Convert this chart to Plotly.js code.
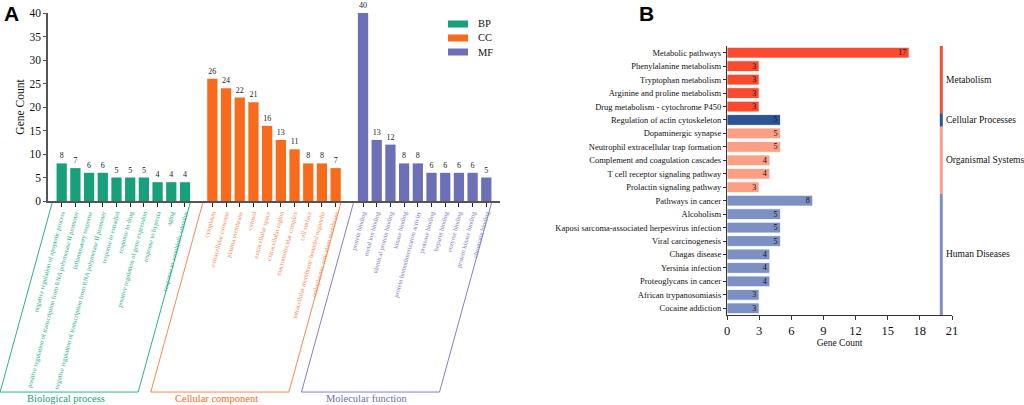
<!DOCTYPE html>
<html><head><meta charset="utf-8">
<script src="https://cdn.plot.ly/plotly-3.0.1.min.js"></script>
<style>html,body{margin:0;padding:0;background:#fff}#chart{width:1024px;height:405px}</style>
</head><body><div id="chart"></div>
<script>
// ---------- GO data (panel A) ----------
const bpTerms = ['negative regulation of apoptotic process','positive regulation of transcription from RNA polymerase II promoter','inflammatory response','negative regulation of transcription from RNA polymerase II promoter','response to estradiol','response to drug','positive regulation of gene expression','response to hypoxia','aging','response to xenobiotic stimulus'];
const bpCounts = [8,7,6,6,5,5,5,4,4,4];
const ccTerms = ['cytoplasm','extracellular exosome','plasma membrane','cytosol','extracellular space','extracellular region','macromolecular complex','cell surface','intracellular membrane-bounded organelle','endoplasmic reticulum membrane'];
const ccCounts = [26,24,22,21,16,13,11,8,8,7];
const mfTerms = ['protein binding','metal ion binding','identical protein binding','kinase binding','protein homodimerization activity','protease binding','heparin binding','enzyme binding','protein kinase binding','chromatin binding'];
const mfCounts = [40,13,12,8,8,6,6,6,6,5];
const goNames = ['BP','CC','MF'];
const goTitles = ['Biological process','Cellular component','Molecular function'];

// ---------- KEGG data (panel B) ----------
const keggTerms = ['Metabolic pathways','Phenylalanine metabolism','Tryptophan metabolism','Arginine and proline metabolism','Drug metabolism - cytochrome P450','Regulation of actin cytoskeleton','Dopaminergic synapse','Neutrophil extracellular trap formation','Complement and coagulation cascades','T cell receptor signaling pathway','Prolactin signaling pathway','Pathways in cancer','Alcoholism','Kaposi sarcoma-associated herpesvirus infection','Viral carcinogenesis','Chagas disease','Yersinia infection','Proteoglycans in cancer','African trypanosomiasis','Cocaine addiction'];
const keggCounts = [17,3,3,3,3,5,5,5,4,4,3,8,5,5,5,4,4,4,3,3];
const keggClasses = ['Metabolism','Metabolism','Metabolism','Metabolism','Metabolism','Cellular Processes','Organismal Systems','Organismal Systems','Organismal Systems','Organismal Systems','Organismal Systems','Human Diseases','Human Diseases','Human Diseases','Human Diseases','Human Diseases','Human Diseases','Human Diseases','Human Diseases','Human Diseases'];
const classNames = ['Metabolism','Cellular Processes','Organismal Systems','Human Diseases'];

// ---------- styles ----------
const SERIF = 'Liberation Serif, Times New Roman, serif';
const goColors = ['#17A07B','#F96B1C','#6C70B6'];
const goTextColors = ['#2BB08C','#F58A55','#7F82C0'];
const classColors = {'Metabolism':'#FA4A30','Cellular Processes':'#2D5392','Organismal Systems':'#FB9F85','Human Diseases':'#7D90C3'};

const goGroups = [[bpTerms,bpCounts],[ccTerms,ccCounts],[mfTerms,mfCounts]];
const XR = [-1, 32];
const dom = v => (v - XR[0]) / (XR[1] - XR[0]);
const W = 1024, H = 405;

const traces = [];
const tickvals = [], ticktext = [];
const shapes = [], annotations = [];
goGroups.forEach(([terms, counts], g) => {
  const start = g * 11;
  const xs = terms.map((t, i) => start + i);
  xs.forEach((x, i) => { tickvals.push(x); ticktext.push('<span style="color:' + goTextColors[g] + '">' + terms[i] + '</span>'); });
  traces.push({
    type: 'bar', name: goNames[g], x: xs, y: counts, width: 0.75,
    marker: {color: goColors[g]},
    text: counts.map(String), textposition: 'outside', cliponaxis: false,
    textfont: {family: SERIF, size: 8, color: '#222'},
    xaxis: 'x', yaxis: 'y', hoverinfo: 'x+y', showlegend: false
  });
  // bracket parallelogram
  const l = dom(start - 0.7), r = dom(start + terms.length - 1 + 0.38);
  const s = 0.115, yT = 0.499, yB = 0.032;
  shapes.push({type: 'path', xref: 'x domain', yref: 'paper',
    path: `M ${l},${yT} L ${l - s},${yB} L ${r - s},${yB} L ${r},${yT}`,
    line: {color: goTextColors[g], width: 1}});
  annotations.push({xref: 'x domain', yref: 'paper', x: (l + r) / 2 - s - 0.008, y: 0.017,
    text: goTitles[g], showarrow: false, xanchor: 'center', yanchor: 'middle',
    font: {family: SERIF, size: 10.5, color: goColors[g]}});
  // legend entry (swatch + label)
  const yc = 24 + 14 * g;
  shapes.push({type: 'rect', xref: 'paper', yref: 'paper', x0: 448 / W, x1: 468 / W,
    y0: (H - yc - 3.5) / H, y1: (H - yc + 3.5) / H, fillcolor: goColors[g], line: {width: 0}});
  annotations.push({xref: 'paper', yref: 'paper', x: 476 / W, y: (H - yc) / H, text: goNames[g],
    showarrow: false, xanchor: 'left', yanchor: 'middle', font: {family: SERIF, size: 10.5, color: '#111'}});
});

// KEGG bars
traces.push({
  type: 'bar', orientation: 'h', x: keggCounts, y: keggTerms, width: 0.8,
  marker: {color: keggClasses.map(c => classColors[c]), line: {color: '#fff', width: 0.8}},
  text: keggCounts.map(String), textposition: 'inside', insidetextanchor: 'end', textangle: 0,
  textfont: {family: SERIF, size: 8, color: '#111'}, constraintext: 'none',
  xaxis: 'x2', yaxis: 'y2', showlegend: false, hoverinfo: 'x+y'
});

// class strip + labels
classNames.forEach(c => {
  const idx = keggClasses.map((k, i) => k === c ? i : -1).filter(i => i >= 0);
  const a = Math.min(...idx), b = Math.max(...idx);
  shapes.push({type: 'rect', xref: 'x2', yref: 'y2', x0: 19.86, x1: 20.14, y0: a - 0.5, y1: b + 0.5,
    fillcolor: classColors[c], line: {width: 0}});
  annotations.push({xref: 'x2', yref: 'y2', x: 20.22, y: (a + b) / 2, text: c, showarrow: false,
    xanchor: 'left', yanchor: 'middle', font: {family: SERIF, size: 9.5, color: '#111'}});
});

// panel letters
annotations.push({xref: 'paper', yref: 'paper', x: 0.002, y: 1.0, text: '<b>A</b>', showarrow: false,
  xanchor: 'left', yanchor: 'top', font: {family: 'Liberation Sans, Arial, sans-serif', size: 21, color: '#000'}});
annotations.push({xref: 'paper', yref: 'paper', x: 0.622, y: 1.0, text: '<b>B</b>', showarrow: false,
  xanchor: 'left', yanchor: 'top', font: {family: 'Liberation Sans, Arial, sans-serif', size: 21, color: '#000'}});

const layout = {
  width: W, height: H,
  margin: {l: 0, r: 0, t: 0, b: 0},
  paper_bgcolor: '#fff', plot_bgcolor: '#fff',
  barmode: 'overlay',
  font: {family: SERIF, color: '#111'},
  showlegend: false,
  xaxis: {domain: [48/W, 500/W], range: XR, anchor: 'y',
    tickmode: 'array', tickvals: tickvals, ticktext: ticktext, tickangle: -75,
    tickfont: {family: SERIF, size: 6.5}, ticks: 'outside', ticklen: 4, tickcolor: '#222', tickwidth: 1,
    showline: true, linecolor: '#555', linewidth: 1.5, showgrid: false, zeroline: false, automargin: false},
  yaxis: {domain: [(H-201)/H, (H-13)/H], range: [0, 40], anchor: 'x',
    tickvals: [0,5,10,15,20,25,30,35,40], ticks: 'outside', ticklen: 3, tickcolor: '#555',
    tickfont: {family: SERIF, size: 11.5}, showline: true, linecolor: '#555', linewidth: 1.5,
    showgrid: false, zeroline: false, automargin: false,
    title: {text: 'Gene Count', font: {family: SERIF, size: 11.5}, standoff: 2}},
  xaxis2: {domain: [727/W, 952/W], range: [0, 21], anchor: 'y2',
    tickvals: [0,3,6,9,12,15,18,21], ticks: 'outside', ticklen: 4, tickcolor: '#333',
    tickfont: {family: SERIF, size: 12.5}, showline: true, linecolor: '#333', linewidth: 1.2,
    showgrid: false, zeroline: false, automargin: false,
    title: {text: 'Gene Count', font: {family: SERIF, size: 9.5}, standoff: 0}},
  yaxis2: {domain: [(H-315)/H, (H-46)/H], anchor: 'x2', type: 'category',
    categoryorder: 'array', categoryarray: keggTerms, range: [19.5, -0.5],
    ticks: 'outside', ticklen: 3, tickcolor: '#333', tickfont: {family: SERIF, size: 8.5},
    showline: true, linecolor: '#333', linewidth: 1.2, showgrid: false, zeroline: false, automargin: false},
  shapes: shapes, annotations: annotations
};

Plotly.newPlot('chart', traces, layout, {displayModeBar: false, responsive: false});
</script>
</body></html>
